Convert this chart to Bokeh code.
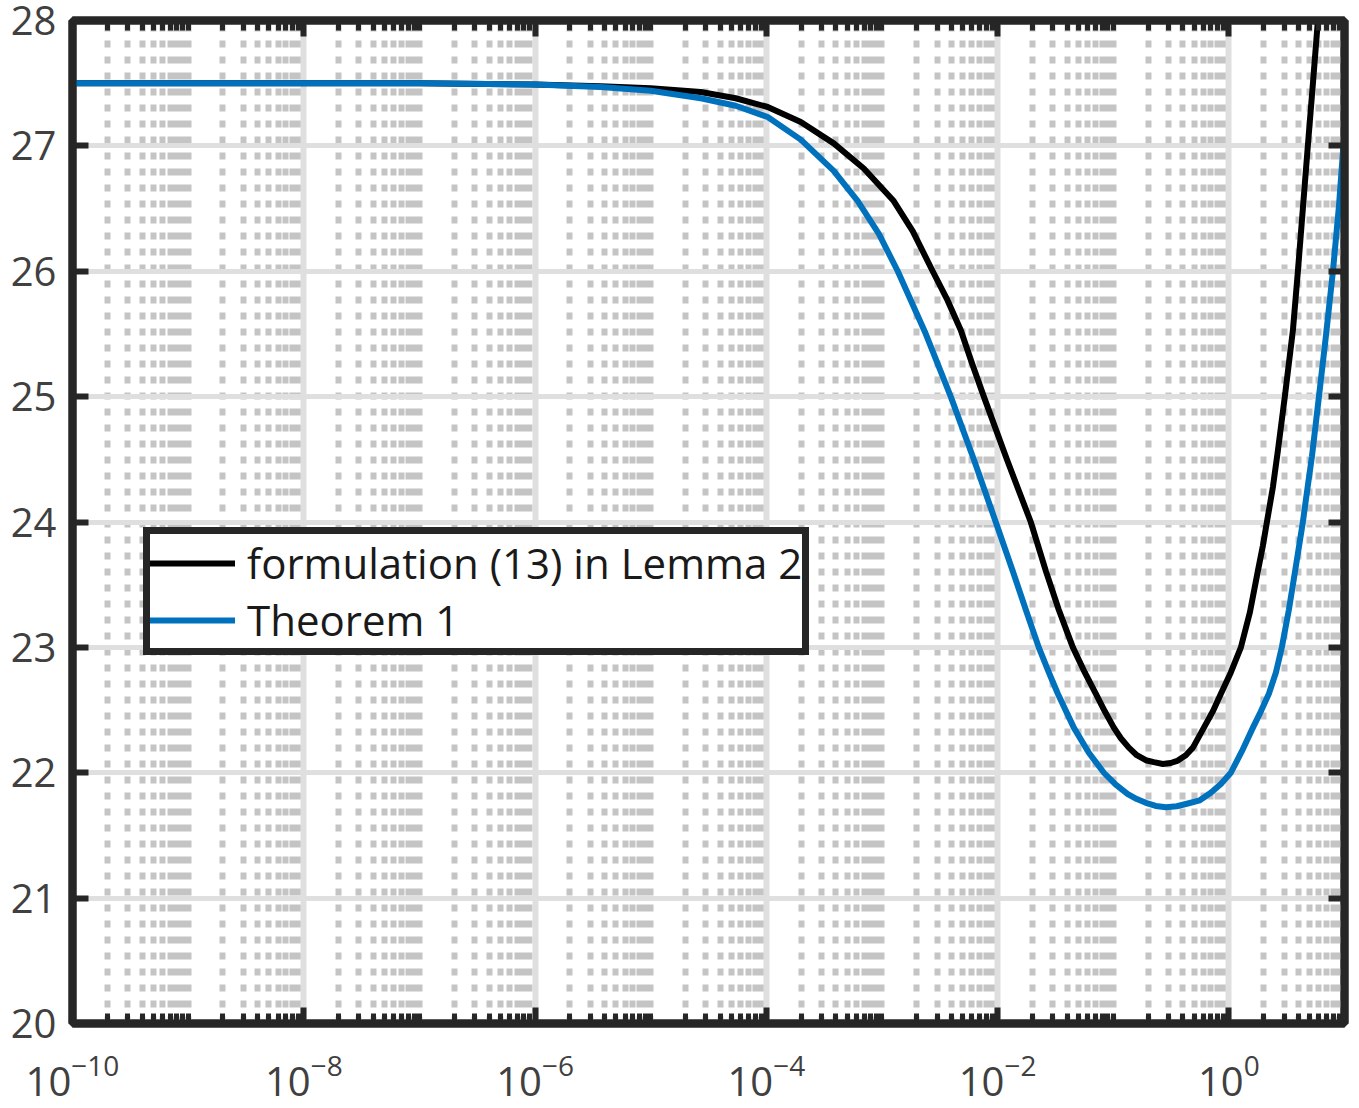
from bokeh.plotting import figure
from bokeh.models import (FixedTicker, LogAxis, LinearAxis, Legend, LegendItem,
                          Range1d, ColumnDataSource)
from bokeh.embed import file_html
from bokeh.resources import INLINE

# ---- data (x given as log10 exponents) ----
black_log10_x = [-10.0, -8.0, -7.0, -6.0, -5.433, -5.0, -4.567, -4.265, -3.988, -3.702,
                 -3.417, -3.157, -2.898, -2.734, -2.561, -2.439, -2.318, -2.223, -2.119,
                 -1.920, -1.713, -1.583, -1.471, -1.349, -1.246, -1.150, -1.073, -0.995,
                 -0.934, -0.865, -0.796, -0.718, -0.649, -0.571, -0.502, -0.441, -0.372,
                 -0.311, -0.216, -0.138, -0.069, 0.017, 0.104, 0.182, 0.251, 0.294,
                 0.329, 0.381, 0.424, 0.484, 0.554, 0.597, 0.640, 0.683, 0.727, 0.770]
black_y = [27.5, 27.5, 27.5, 27.49, 27.475, 27.46, 27.43, 27.38, 27.31, 27.19,
           27.02, 26.82, 26.56, 26.32, 26.0, 25.78, 25.53, 25.27, 25.0,
           24.5, 24.0, 23.61, 23.30, 23.0, 22.80, 22.63, 22.49, 22.36,
           22.275, 22.20, 22.14, 22.10, 22.085, 22.07, 22.078, 22.097, 22.14,
           22.20, 22.36, 22.49, 22.63, 22.80, 23.0, 23.28, 23.61, 23.81,
           24.0, 24.28, 24.57, 25.0, 25.53, 26.0, 26.5, 27.0, 27.5, 28.0]

blue_log10_x = [-10.0, -8.0, -7.0, -6.0, -5.433, -5.0, -4.567, -4.265, -3.988, -3.702,
                -3.417, -3.209, -3.028, -2.863, -2.630, -2.405, -2.206, -2.016, -1.869,
                -1.756, -1.644, -1.557, -1.479, -1.341, -1.211, -1.081, -0.978, -0.874,
                -0.796, -0.718, -0.632, -0.545, -0.450, -0.355, -0.251, -0.156, -0.069,
                0.017, 0.112, 0.208, 0.277, 0.346, 0.407, 0.458, 0.519, 0.580,
                0.640, 0.683, 0.718, 0.779, 0.839, 0.900, 0.952, 1.0]
blue_y = [27.5, 27.5, 27.5, 27.49, 27.47, 27.44, 27.38, 27.32, 27.23, 27.05,
          26.80, 26.56, 26.30, 26.0, 25.52, 25.0, 24.5, 24.0, 23.61,
          23.30, 23.0, 22.80, 22.63, 22.36, 22.16, 22.0, 21.905, 21.83,
          21.79, 21.76, 21.735, 21.725, 21.733, 21.755, 21.78, 21.84, 21.91,
          22.0, 22.17, 22.36, 22.49, 22.63, 22.80, 23.0, 23.30, 23.65,
          24.0, 24.29, 24.52, 25.0, 25.48, 26.0, 26.52, 27.12]

legend_labels = ["formulation (13) in Lemma 2", "Theorem 1"]
x_major_exponents = [-10, -8, -6, -4, -2, 0]
y_ticks = [20, 21, 22, 23, 24, 25, 26, 27, 28]

# ---- derived ----
black_x = [10 ** e for e in black_log10_x]
blue_x = [10 ** e for e in blue_log10_x]
x_major = [10.0 ** e for e in x_major_exponents]
x_minor = [m * 10.0 ** k for k in range(-10, 1) for m in range(2, 10)]
x_minor += [10.0 ** k for k in (-9, -7, -5, -3, -1, 1)]

AX = "#262626"
FONT = "Open Sans"

p = figure(width=1350, height=1106, x_axis_type="log",
           x_range=Range1d(1e-10, 10), y_range=Range1d(20, 28),
           output_backend="svg", toolbar_location=None,
           min_border_left=72, min_border_right=6, min_border_top=20,
           min_border_bottom=83)
p.background_fill_color = "white"
p.border_fill_color = "white"
p.outline_line_color = AX
p.outline_line_width = 8

xt = FixedTicker(ticks=x_major, minor_ticks=x_minor)
yt = FixedTicker(ticks=y_ticks, minor_ticks=[])

# grids
p.xgrid.ticker = xt
p.xgrid.grid_line_color = "#dfdfdf"
p.xgrid.grid_line_width = 6
p.xgrid.minor_grid_line_color = "#c4c4c4"
p.xgrid.minor_grid_line_width = 6
p.xgrid.minor_grid_line_dash = "7 9"
p.ygrid.ticker = yt
p.ygrid.grid_line_color = "#dfdfdf"
p.ygrid.grid_line_width = 5

def style_axis(ax, labels=True):
    ax.axis_line_color = AX
    ax.axis_line_width = 8
    ax.major_tick_in = 16
    ax.major_tick_out = 0
    ax.major_tick_line_color = AX
    ax.major_tick_line_width = 6
    ax.minor_tick_in = 10
    ax.minor_tick_out = 0
    ax.minor_tick_line_color = AX
    ax.minor_tick_line_width = 5
    ax.major_label_text_font = FONT
    ax.major_label_text_color = "#404040"
    if labels:
        ax.major_label_text_font_size = "40px"
    else:
        ax.major_label_text_font_size = "0px"
        ax.major_label_standoff = 0

xb = p.xaxis[0]
xb.ticker = xt
style_axis(xb)
xb.major_label_standoff = 30

yl = p.yaxis[0]
yl.ticker = yt
style_axis(yl)
yl.major_label_standoff = 16

xa = LogAxis(ticker=xt)
style_axis(xa, labels=False)
xa.major_label_overrides = {t: "" for t in x_major}
p.add_layout(xa, "above")

yr = LinearAxis(ticker=yt)
style_axis(yr, labels=False)
yr.major_label_overrides = {t: "" for t in y_ticks}
p.add_layout(yr, "right")

src_black = ColumnDataSource(dict(x=black_x, y=black_y))
src_blue = ColumnDataSource(dict(x=blue_x, y=blue_y))
r1 = p.line("x", "y", source=src_black, line_color="#000000", line_width=6,
            line_join="round", line_cap="round")
r2 = p.line("x", "y", source=src_blue, line_color="#0072BD", line_width=6,
            line_join="round", line_cap="round")

legend = Legend(items=[LegendItem(label=legend_labels[0], renderers=[r1]),
                       LegendItem(label=legend_labels[1], renderers=[r2])],
                location=(71, 368))
legend.label_text_font = FONT
legend.label_text_font_size = "42px"
legend.label_text_line_height = 0.9
legend.label_text_color = "#1a1a1a"
legend.glyph_width = 85
legend.glyph_height = 40
legend.label_height = 40
legend.label_standoff = 12
legend.spacing = -6
legend.padding = 0
legend.margin = 0
legend.border_line_color = AX
legend.border_line_alpha = 1.0
legend.border_line_width = 7
legend.background_fill_color = "white"
legend.background_fill_alpha = 1.0
p.add_layout(legend)

open("out.html", "w").write(file_html(p, INLINE))
